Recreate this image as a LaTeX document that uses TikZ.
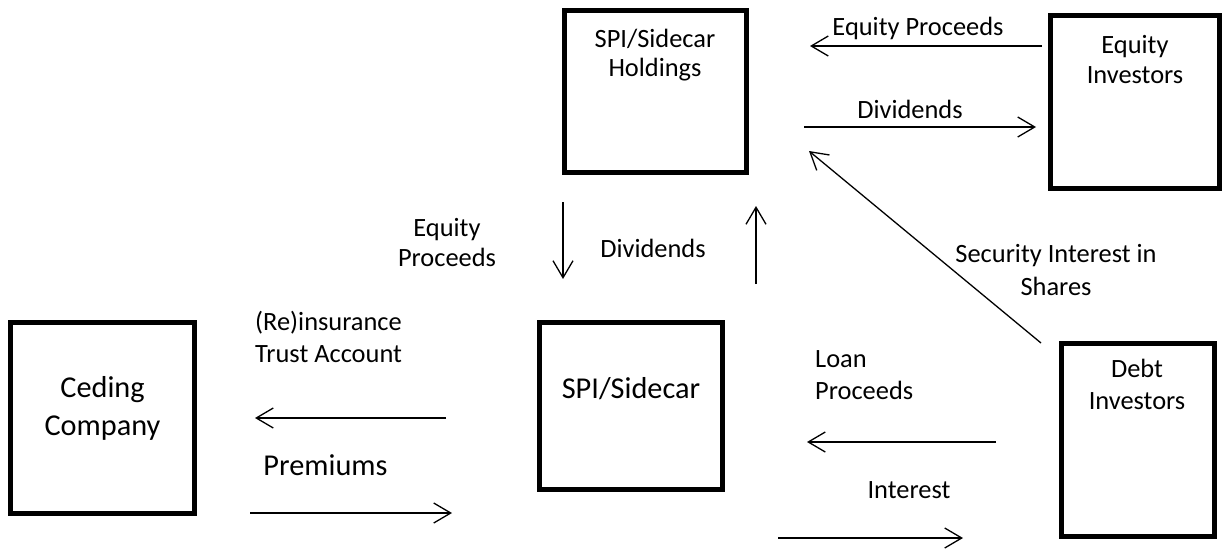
\documentclass[tikz,border=0pt]{standalone}
\usepackage{fontspec}
\setmainfont{Carlito}
\usetikzlibrary{arrows.meta}
\begin{document}
\begin{tikzpicture}[x=1pt,y=-1pt,
  box/.style={draw,line width=5pt,rectangle,inner sep=0pt},
  lbl/.style={font=\fontsize{26.4}{32}\selectfont,inner sep=0pt,align=center,anchor=base},
  big/.style={font=\fontsize{30.3}{38}\selectfont,inner sep=0pt,align=center,anchor=base},
  flow/.style={line width=1.3pt,-{Straight Barb[length=17pt,width=20pt]}}]
\useasboundingbox (0,0) rectangle (1224,550);
% boxes
\node[box,minimum width=182pt,minimum height=162pt] (hold) at (655.5,91.5) {};
\node[box,minimum width=169pt,minimum height=173pt] (eqinv) at (1135,102) {};
\node[box,minimum width=184pt,minimum height=191pt] (ced) at (102.5,418) {};
\node[box,minimum width=183pt,minimum height=167pt] (spi) at (631,406) {};
\node[box,minimum width=153pt,minimum height=193pt] (debt) at (1138,440) {};
% box texts (base anchor = baseline of the last line)
\node[lbl,font=\fontsize{26.4}{29}\selectfont] (holdT) at (655,76) {SPI/Sidecar\\Holdings};
\node[lbl,font=\fontsize{26.4}{30}\selectfont] (eqinvT) at (1135,83) {Equity\\Investors};
\node[big] (cedT) at (102.5,435) {Ceding\\Company};
\node[big] (spiT) at (631,398) {SPI/Sidecar};
\node[lbl] (debtT) at (1137,409) {Debt\\Investors};
% labels
\node[lbl] (lEqP) at (918,35) {Equity Proceeds};
\node[lbl] (lDivT) at (910,118) {Dividends};
\node[lbl,font=\fontsize{26.4}{33}\selectfont] (lSec) at (1056,295) {Security Interest in\\Shares};
\node[lbl,font=\fontsize{26.4}{30}\selectfont] (lEqP2) at (447,266) {Equity\\Proceeds};
\node[lbl] (lDivM) at (653,257) {Dividends};
\node[lbl,align=left,anchor=base west] (lRe) at (255,362) {(Re)insurance\\Trust Account};
\node[big] (lPrem) at (325.5,475) {Premiums};
\node[lbl,align=left,anchor=base west] (lLoan) at (815,399) {Loan\\Proceeds};
\node[lbl] (lInt) at (909,498) {Interest};
% arrow end points
\coordinate (a1s) at (1042,46);  \coordinate (a1e) at (810,46);
\coordinate (a2s) at (804,127);  \coordinate (a2e) at (1036,127);
\coordinate (a3s) at (1041,343); \coordinate (a3e) at (809,151);
\coordinate (a4s) at (563,202);  \coordinate (a4e) at (563,279);
\coordinate (a5s) at (756,284);  \coordinate (a5e) at (756,206);
\coordinate (a6s) at (446,418);  \coordinate (a6e) at (255,418);
\coordinate (a7s) at (250,513);  \coordinate (a7e) at (452,513);
\coordinate (a8s) at (996,442);  \coordinate (a8e) at (807,442);
\coordinate (a9s) at (778,538);  \coordinate (a9e) at (963,538);
\draw[flow] (a1s) -- (a1e);
\draw[flow] (a2s) -- (a2e);
\draw[flow] (a3s) -- (a3e);
\draw[flow] (a4s) -- (a4e);
\draw[flow] (a5s) -- (a5e);
\draw[flow] (a6s) -- (a6e);
\draw[flow] (a7s) -- (a7e);
\draw[flow] (a8s) -- (a8e);
\draw[flow] (a9s) -- (a9e);
\end{tikzpicture}
\end{document}
